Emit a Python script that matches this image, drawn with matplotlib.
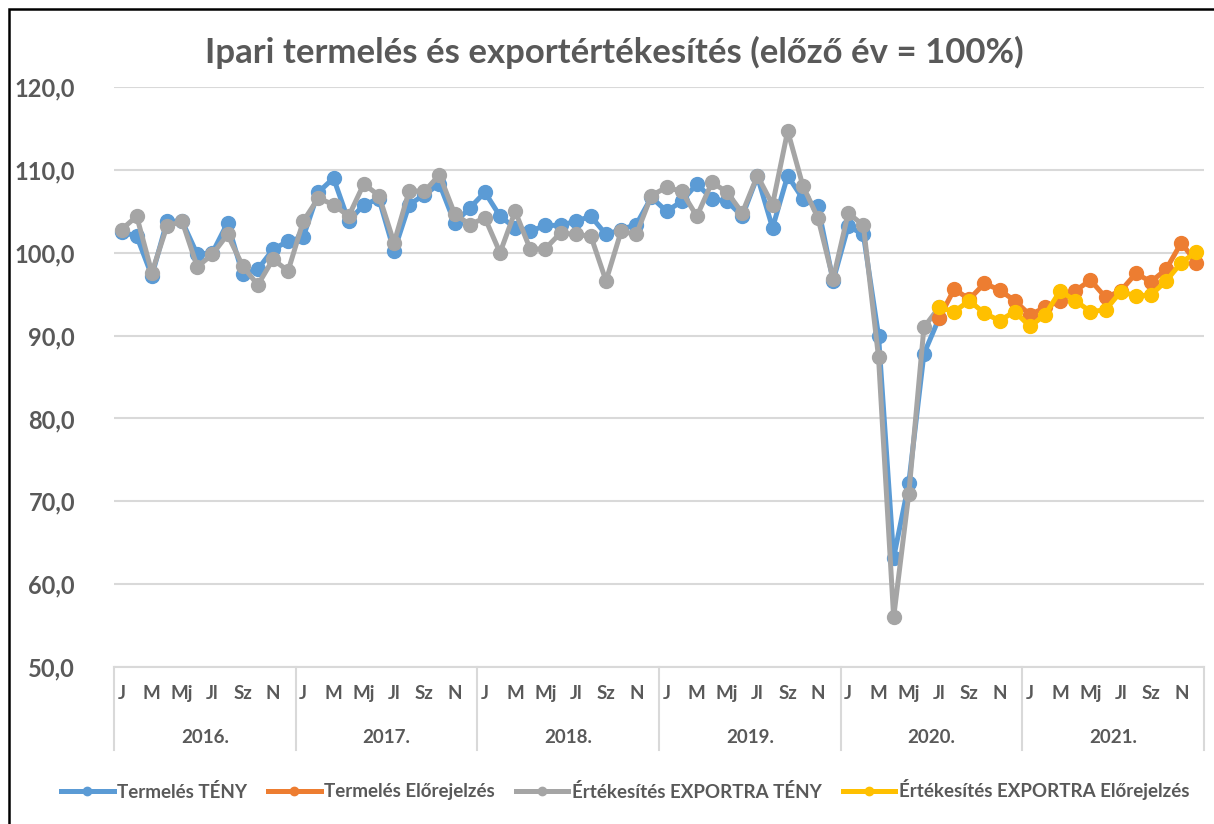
import numpy as np
import matplotlib.pyplot as plt
import matplotlib.transforms as mtransforms
from matplotlib.patches import Rectangle

plt.rcParams['font.family'] = ['Lato', 'DejaVu Sans']

years = ["2016.", "2017.", "2018.", "2019.", "2020.", "2021."]
month_labels = ["J", "M", "Mj", "Jl", "Sz", "N"]

# Termelés TÉNY (2016 jan - 2020 júl)
termeles_teny = [
    102.5, 102.0, 97.2, 103.8, 103.8, 99.8, 100.0, 103.6, 97.4, 98.0, 100.4, 101.4,
    101.9, 107.3, 109.0, 103.8, 105.8, 106.5, 100.2, 105.8, 107.0, 108.3, 103.6, 105.4,
    107.3, 104.4, 103.0, 102.6, 103.3, 103.3, 103.8, 104.4, 102.2, 102.8, 103.4, 106.7,
    105.0, 106.2, 108.3, 106.5, 106.2, 104.4, 109.2, 103.0, 109.3, 106.5, 105.6, 96.6,
    103.2, 102.2, 90.0, 63.2, 72.2, 87.8, 92.1,
]
# Értékesítés EXPORTRA TÉNY
export_teny = [
    102.8, 104.4, 97.6, 103.2, 103.8, 98.3, 99.8, 102.2, 98.4, 96.1, 99.2, 97.8,
    103.8, 106.6, 105.8, 104.4, 108.3, 106.9, 101.2, 107.5, 107.4, 109.4, 104.7, 103.4,
    104.2, 100.0, 105.0, 100.4, 100.5, 102.4, 102.2, 102.0, 96.6, 102.6, 102.2, 106.9,
    107.9, 107.4, 104.4, 108.5, 107.3, 104.8, 109.3, 105.8, 114.7, 108.1, 104.2, 96.8,
    104.8, 103.3, 87.4, 56.0, 70.9, 91.0, 93.4,
]
# Előrejelzések (2020 júl - 2021 dec)
termeles_elore = [
    92.1, 95.6, 94.4, 96.3, 95.5, 94.2,
    92.5, 93.4, 94.2, 95.4, 96.7, 94.6, 95.4, 97.5, 96.5, 98.0, 101.2, 98.8,
]
export_elore = [
    93.4, 92.9, 94.2, 92.7, 91.8, 92.9,
    91.1, 92.5, 95.4, 94.2, 92.9, 93.1, 95.3, 94.8, 94.9, 96.6, 98.8, 100.1,
]

n = len(years) * 12
x_teny = np.arange(len(termeles_teny))
x_elore = np.arange(len(termeles_teny) - 1, n)

text_color = '#595959'
grid_color = '#d9d9d9'

fig = plt.figure(figsize=(12.14, 8.24), dpi=100)
ax = fig.add_axes([114 / 1214, 157 / 824, 1090 / 1214, 580 / 824])

lw = 3.6
ms = 10
ax.plot(x_teny, termeles_teny, color='#5b9bd5', lw=lw, marker='o', ms=ms, label='Termelés TÉNY', zorder=3)
ax.plot(x_elore, termeles_elore, color='#ed7d31', lw=lw, marker='o', ms=ms, label='Termelés Előrejelzés', zorder=4)
ax.plot(x_teny, export_teny, color='#a5a5a5', lw=lw, marker='o', ms=ms, label='Értékesítés EXPORTRA TÉNY', zorder=3.5)
ax.plot(x_elore, export_elore, color='#ffc000', lw=lw, marker='o', ms=ms, label='Értékesítés EXPORTRA Előrejelzés', zorder=5)

ax.set_xlim(-0.5, n - 0.5)
ax.set_ylim(50, 120)
ax.set_yticks(np.arange(50, 121, 10))
ax.set_yticklabels([f"{v:.1f}".replace('.', ',') for v in np.arange(50, 121, 10)],
                   fontsize=17, fontweight='bold', color=text_color)
ax.tick_params(axis='y', length=0, pad=28)
ax.grid(axis='y', color=grid_color, lw=1.5)
ax.set_axisbelow(True)
for s in ['top', 'right', 'left']:
    ax.spines[s].set_visible(False)
ax.spines['bottom'].set_color(grid_color)
ax.spines['bottom'].set_linewidth(1.5)

# multi-level category axis
ax.set_xticks([])
trans = mtransforms.blended_transform_factory(ax.transData, ax.transAxes)
for k, yr in enumerate(years):
    for j, m in enumerate(month_labels):
        ax.text(12 * k + 2 * j, -0.045, m, transform=trans, ha='center', va='center',
                fontsize=13.5, fontweight='bold', color=text_color)
    ax.text(12 * k + 5.5, -0.121, yr, transform=trans, ha='center', va='center',
            fontsize=13.5, fontweight='bold', color=text_color)
for k in range(len(years) + 1):
    ax.plot([12 * k - 0.5, 12 * k - 0.5], [0, -0.143], transform=trans, color=grid_color,
            lw=1.5, clip_on=False)

fig.text(614 / 1214, 1 - 52 / 824, 'Ipari termelés és exportértékesítés (előző év = 100%)',
         ha='center', va='center', fontsize=25, fontweight='bold', color=text_color)

leg = fig.legend(loc='center', bbox_to_anchor=(0.515, 1 - 790 / 824), ncol=4, frameon=False,
                 prop={'size': 13.5, 'weight': 'bold'}, handlelength=2.8, handletextpad=0.2,
                 columnspacing=1.1, markerscale=0.6)
for t in leg.get_texts():
    t.set_color(text_color)

# chart border (left and top only visible)
fig.patches.append(Rectangle((9 / 1214, -0.1), 1.2, 1 - 9 / 824 + 0.1, transform=fig.transFigure,
                             fill=False, edgecolor='black', lw=1.8))

fig.savefig('out.png', dpi=100)
